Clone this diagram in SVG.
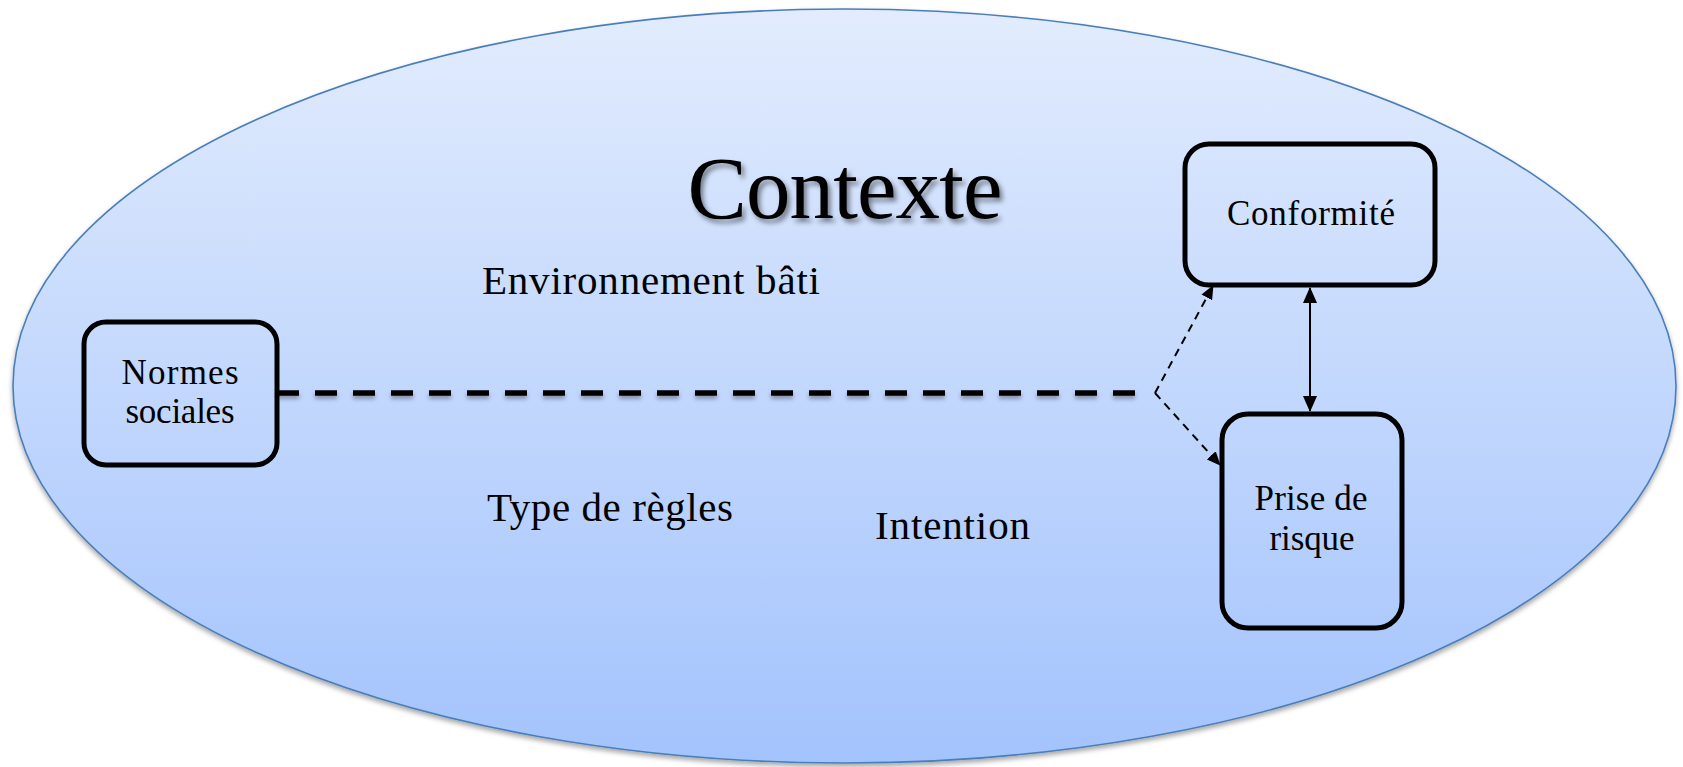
<svg xmlns="http://www.w3.org/2000/svg" width="1683" height="767" viewBox="0 0 1683 767">
<defs>
<linearGradient id="bg" x1="0" y1="0" x2="0" y2="1">
<stop offset="0" stop-color="#e2ecfd"/>
<stop offset="1" stop-color="#a3c3fd"/>
</linearGradient>
<filter id="elShadow" x="-5%" y="-5%" width="110%" height="115%">
<feDropShadow dx="0" dy="3" stdDeviation="2.5" flood-color="#000" flood-opacity="0.35"/>
</filter>
<filter id="txtShadow" x="-10%" y="-20%" width="120%" height="150%">
<feDropShadow dx="3" dy="4" stdDeviation="2.5" flood-color="#000" flood-opacity="0.45"/>
</filter>
<filter id="lnShadow" filterUnits="userSpaceOnUse" x="260" y="380" width="900" height="30">
<feDropShadow dx="0" dy="3" stdDeviation="2" flood-color="#000" flood-opacity="0.35"/>
</filter>
<marker id="ah" markerUnits="userSpaceOnUse" markerWidth="16" markerHeight="16" viewBox="0 0 16 16" refX="15" refY="8" orient="auto-start-reverse">
<path d="M0,1 L16,8 L0,15 z" fill="#000"/>
</marker>
<marker id="ahs" markerUnits="userSpaceOnUse" markerWidth="14" markerHeight="14" viewBox="0 0 14 14" refX="13" refY="7" orient="auto">
<path d="M0,1 L14,7 L0,13 z" fill="#000"/>
</marker>
</defs>
<style>
.box{fill:none;stroke:#000;stroke-width:5}
.lbl{font-family:"Liberation Serif","Times New Roman",serif;fill:#000}
.nl{font-size:35px;text-anchor:middle}
.ctx{font-size:41px}
</style>
<rect width="1683" height="767" fill="#fff"/>
<g id="context">
<ellipse cx="844.5" cy="386" rx="831.5" ry="377" fill="url(#bg)" stroke="#4a7ebb" stroke-width="1.6" filter="url(#elShadow)"/>
<text class="lbl" x="845" y="218" font-size="89" text-anchor="middle" textLength="315" filter="url(#txtShadow)">Contexte</text>
<text class="lbl ctx" x="482" y="294" textLength="338">Environnement bâti</text>
<text class="lbl ctx" x="487" y="521" textLength="246">Type de règles</text>
<text class="lbl ctx" x="875" y="539" textLength="155">Intention</text>
</g>
<g id="connectors">
<path d="M277,393 H1136" fill="none" stroke="#000" stroke-width="5.5" stroke-dasharray="22 16" filter="url(#lnShadow)"/>
<line x1="1155" y1="393" x2="1213" y2="286" stroke="#000" stroke-width="2" stroke-dasharray="8 6" marker-end="url(#ahs)"/>
<line x1="1155" y1="393" x2="1220" y2="465" stroke="#000" stroke-width="2" stroke-dasharray="8 6" marker-end="url(#ahs)"/>
<line x1="1310" y1="288" x2="1310" y2="411" stroke="#000" stroke-width="2" marker-start="url(#ah)" marker-end="url(#ah)"/>
</g>
<g id="normes">
<rect class="box" x="84" y="322" width="193" height="143" rx="22"/>
<text class="lbl nl" x="180" y="384" textLength="117">Normes</text>
<text class="lbl nl" x="180" y="423" textLength="109">sociales</text>
</g>
<g id="conformite">
<rect class="box" x="1185" y="144" width="250" height="141" rx="24"/>
<text class="lbl nl" x="1311" y="225" textLength="168">Conformité</text>
</g>
<g id="prise">
<rect class="box" x="1222" y="414" width="180" height="214" rx="26"/>
<text class="lbl nl" x="1311" y="510" textLength="113">Prise de</text>
<text class="lbl nl" x="1312" y="550" textLength="85">risque</text>
</g>
</svg>
